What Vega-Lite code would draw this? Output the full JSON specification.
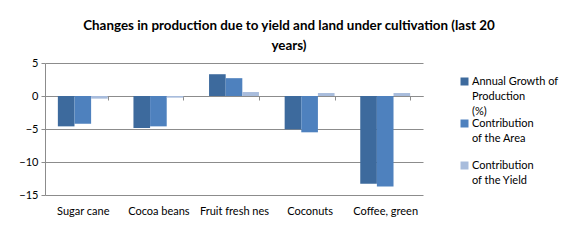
{
  "$schema": "https://vega.github.io/schema/vega-lite/v6.json",
  "width": 378,
  "height": 132,
  "autosize": {"type": "none"},
  "padding": {"left": 45, "top": 63, "right": 152, "bottom": 47},
  "background": "white",
  "title": {
    "text": ["Changes in production due to yield and land under cultivation (last 20", "years)"],
    "font": "Lato",
    "fontSize": 13.4,
    "fontWeight": "bold",
    "color": "black",
    "anchor": "middle",
    "offset": 5,
    "dx": 55,
    "lineHeight": 20
  },
  "data": {
    "values": [
      {"crop": "Sugar cane", "series": "Annual Growth of Production (%)", "value": -4.6},
      {"crop": "Sugar cane", "series": "Contribution of the Area", "value": -4.2},
      {"crop": "Sugar cane", "series": "Contribution of the Yield", "value": -0.4},
      {"crop": "Cocoa beans", "series": "Annual Growth of Production (%)", "value": -4.85},
      {"crop": "Cocoa beans", "series": "Contribution of the Area", "value": -4.6},
      {"crop": "Cocoa beans", "series": "Contribution of the Yield", "value": -0.25},
      {"crop": "Fruit fresh nes", "series": "Annual Growth of Production (%)", "value": 3.3},
      {"crop": "Fruit fresh nes", "series": "Contribution of the Area", "value": 2.7},
      {"crop": "Fruit fresh nes", "series": "Contribution of the Yield", "value": 0.6},
      {"crop": "Coconuts", "series": "Annual Growth of Production (%)", "value": -5.05},
      {"crop": "Coconuts", "series": "Contribution of the Area", "value": -5.5},
      {"crop": "Coconuts", "series": "Contribution of the Yield", "value": 0.45},
      {"crop": "Coffee, green", "series": "Annual Growth of Production (%)", "value": -13.3},
      {"crop": "Coffee, green", "series": "Contribution of the Area", "value": -13.7},
      {"crop": "Coffee, green", "series": "Contribution of the Yield", "value": 0.45}
    ]
  },
  "layer": [
    {
      "mark": {"type": "bar", "strokeWidth": 0},
      "encoding": {
        "x": {
          "field": "crop",
          "type": "nominal",
          "sort": null,
          "title": null,
          "scale": {"paddingInner": 0.34, "paddingOuter": 0.17},
          "axis": {
            "offset": -99,
            "domain": true,
            "domainColor": "#8c8c8c",
            "ticks": true,
            "tickBand": "extent",
            "tickColor": "#8c8c8c",
            "tickSize": 4,
            "labelPadding": 105,
            "labelAngle": 0,
            "labelFont": "Lato",
            "labelFontSize": 11,
            "labelColor": "black",
            "grid": false
          }
        },
        "xOffset": {"field": "series", "type": "nominal", "sort": null},
        "y": {
          "field": "value",
          "type": "quantitative",
          "title": null,
          "scale": {"domain": [-15, 5], "nice": false},
          "axis": {
            "values": [5, 0, -5, -10, -15],
            "grid": true,
            "gridColor": "#8c8c8c",
            "domainColor": "#8c8c8c",
            "tickColor": "#8c8c8c",
            "tickSize": 4,
            "labelPadding": 3,
            "labelFont": "Lato",
            "labelFontSize": 11,
            "labelColor": "black"
          }
        },
        "color": {
          "field": "series",
          "type": "nominal",
          "sort": null,
          "title": null,
          "scale": {"range": ["#3d6a9d", "#4e81be", "#a8bcdc"]},
          "legend": {
            "orient": "none",
            "legendX": 414,
            "legendY": 13,
            "symbolType": "square",
            "symbolSize": 64,
            "symbolStrokeWidth": 0,
            "labelFont": "Lato",
            "labelFontSize": 11,
            "labelColor": "black",
            "labelBaseline": "middle",
            "labelOffset": 2,
            "labelExpr": "datum.label == 'Annual Growth of Production (%)' ? ['Annual Growth of', 'Production', '(%)'] : datum.label == 'Contribution of the Area' ? ['Contribution', 'of the Area'] : ['Contribution', 'of the Yield']",
            "labelLimit": 200,
            "gridAlign": "all",
            "rowPadding": 0
          }
        }
      }
    }
  ],
  "config": {
    "view": {"stroke": null},
    "axis": {"gridWidth": 1, "domainWidth": 1},
    "style": {"guide-label": {"lineHeight": 15}}
  }
}
